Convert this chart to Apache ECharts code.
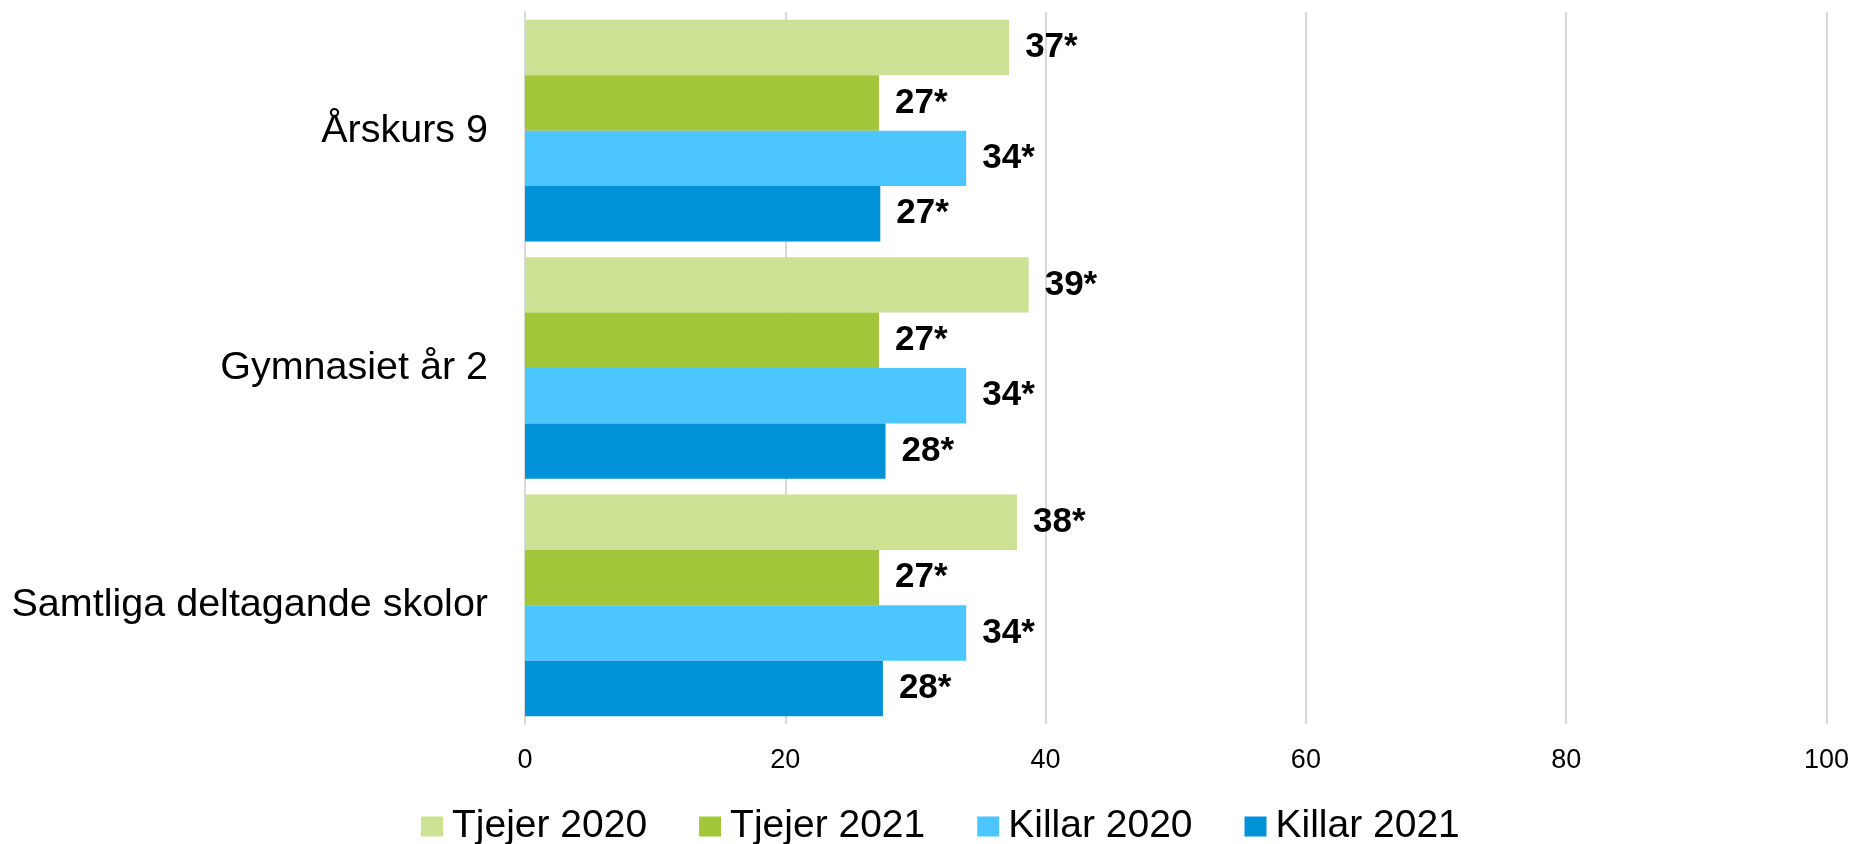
<!DOCTYPE html>
<html>
<head>
<meta charset="utf-8">
<script src="https://cdn.jsdelivr.net/npm/echarts@6/dist/echarts.min.js"></script>
<style>
  html, body { margin: 0; padding: 0; background: #fff; }
  #chart { width: 1852px; height: 844px; }
</style>
</head>
<body>
<div id="chart"></div>
<script>
// Skolgrupper (kategorier) och andelar per grupp och år
const categories = ['Årskurs 9', 'Gymnasiet år 2', 'Samtliga deltagande skolor'];
const seriesNames = ['Tjejer 2020', 'Tjejer 2021', 'Killar 2020', 'Killar 2021'];
const tjejer2020 = [37.2, 38.7, 37.8];
const tjejer2021 = [27.2, 27.2, 27.2];
const killar2020 = [33.9, 33.9, 33.9];
const killar2021 = [27.3, 27.7, 27.5];
const xTicks = [0, 20, 40, 60, 80, 100];

const values = [tjejer2020, tjejer2021, killar2020, killar2021];
const colors = ['#CDE195', '#A2C53A', '#4BC6FF', '#0091D7'];
const FONT = '"Liberation Sans", Arial, sans-serif';

const chart = echarts.init(document.getElementById('chart'), null, { renderer: 'canvas' });

chart.setOption({
  animation: false,
  backgroundColor: '#ffffff',
  textStyle: { fontFamily: FONT },
  grid: { left: 525, right: 24, top: 12, bottom: 120 },
  xAxis: {
    type: 'value',
    min: xTicks[0],
    max: xTicks[xTicks.length - 1],
    interval: xTicks[1] - xTicks[0],
    axisLine: { show: false },
    axisTick: { show: false },
    splitLine: { show: true, lineStyle: { color: '#D9D9D9', width: 2 } },
    axisLabel: { color: '#000', fontSize: 27, fontFamily: FONT, margin: 23 }
  },
  yAxis: {
    type: 'category',
    data: categories,
    inverse: true,
    axisLine: { show: true, lineStyle: { color: '#D9D9D9', width: 2 } },
    axisTick: { show: false },
    axisLabel: { color: '#000', fontSize: 39.5, fontFamily: FONT, margin: 37 }
  },
  legend: {
    data: seriesNames,
    left: 416,
    top: 802,
    itemWidth: 22,
    itemHeight: 20,
    itemGap: 52,
    icon: 'rect',
    textStyle: { color: '#000', fontSize: 39, fontFamily: FONT, padding: [0, 0, 0, 4] }
  },
  series: seriesNames.map((name, i) => ({
    name: name,
    type: 'bar',
    data: values[i],
    barGap: '0%',
    barCategoryGap: '6.6%',
    itemStyle: { color: colors[i] },
    label: {
      show: true,
      position: 'right',
      distance: 16,
      color: '#000',
      fontSize: 35,
      fontWeight: 'bold',
      fontFamily: FONT,
      formatter: p => Math.round(p.value) + '*'
    }
  }))
});
</script>
</body>
</html>
